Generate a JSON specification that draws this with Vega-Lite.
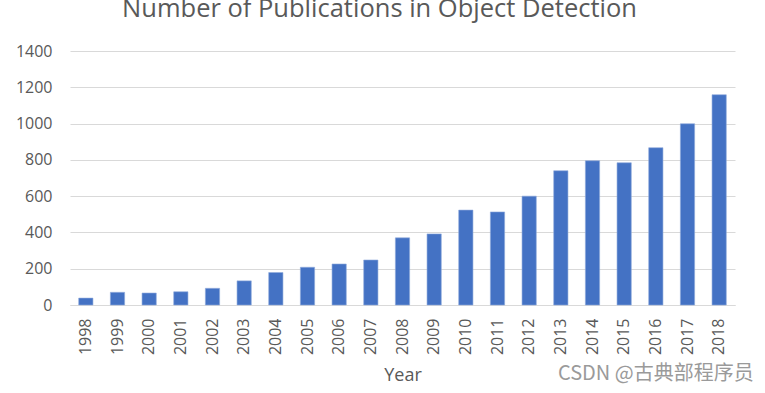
{
  "$schema": "https://vega.github.io/schema/vega-lite/v6.json",
  "width": 665,
  "height": 254,
  "autosize": "none",
  "padding": {"left": 70, "top": 51, "right": 30, "bottom": 88},
  "background": "white",
  "config": {
    "font": "Open Sans",
    "view": {"stroke": null}
  },
  "title": {
    "text": "Number of Publications in Object Detection",
    "fontSize": 25.5,
    "fontWeight": "normal",
    "color": "#595959",
    "font": "Open Sans",
    "anchor": "middle",
    "offset": 20.5,
    "dx": -23
  },
  "data": {
    "values": [
      {"year": "1998", "count": 38},
      {"year": "1999", "count": 70},
      {"year": "2000", "count": 66},
      {"year": "2001", "count": 73},
      {"year": "2002", "count": 92},
      {"year": "2003", "count": 133},
      {"year": "2004", "count": 179},
      {"year": "2005", "count": 208},
      {"year": "2006", "count": 226},
      {"year": "2007", "count": 248},
      {"year": "2008", "count": 370},
      {"year": "2009", "count": 392},
      {"year": "2010", "count": 523},
      {"year": "2011", "count": 513},
      {"year": "2012", "count": 600},
      {"year": "2013", "count": 740},
      {"year": "2014", "count": 795},
      {"year": "2015", "count": 784},
      {"year": "2016", "count": 867},
      {"year": "2017", "count": 999},
      {"year": "2018", "count": 1159}
    ]
  },
  "encoding": {
    "x": {
      "field": "year",
      "type": "ordinal",
      "scale": {"paddingInner": 0.55, "paddingOuter": 0.275},
      "axis": {
        "title": "Year",
        "titleFontSize": 18,
        "titleFontWeight": "normal",
        "titleColor": "#595959",
        "titlePadding": 12,
        "labelAngle": -90,
        "labelFontSize": 16,
        "labelColor": "#595959",
        "labelPadding": 13,
        "labelOverlap": false,
        "ticks": false,
        "domainColor": "#d9d9d9",
        "domainWidth": 1
      }
    },
    "y": {
      "field": "count",
      "type": "quantitative",
      "scale": {"domain": [0, 1400]},
      "axis": {
        "title": null,
        "values": [0, 200, 400, 600, 800, 1000, 1200, 1400],
        "format": "d",
        "labelOverlap": false,
        "labelFontSize": 16,
        "labelColor": "#595959",
        "labelPadding": 18,
        "ticks": false,
        "domain": false,
        "gridColor": "#d9d9d9",
        "gridWidth": 1
      }
    }
  },
  "layer": [
    {
      "mark": {"type": "bar", "color": "#4472C4", "stroke": "#8faadc", "strokeWidth": 0.6}
    },
    {
      "data": {"values": [{"year": "2016", "count": -381, "label": "CSDN @古典部程序员"}]},
      "mark": {"type": "text", "font": "Noto Sans CJK SC", "fontSize": 20, "color": "#9a9a9a", "clip": false, "baseline": "middle"},
      "encoding": {
        "text": {"field": "label"}
      }
    }
  ]
}
